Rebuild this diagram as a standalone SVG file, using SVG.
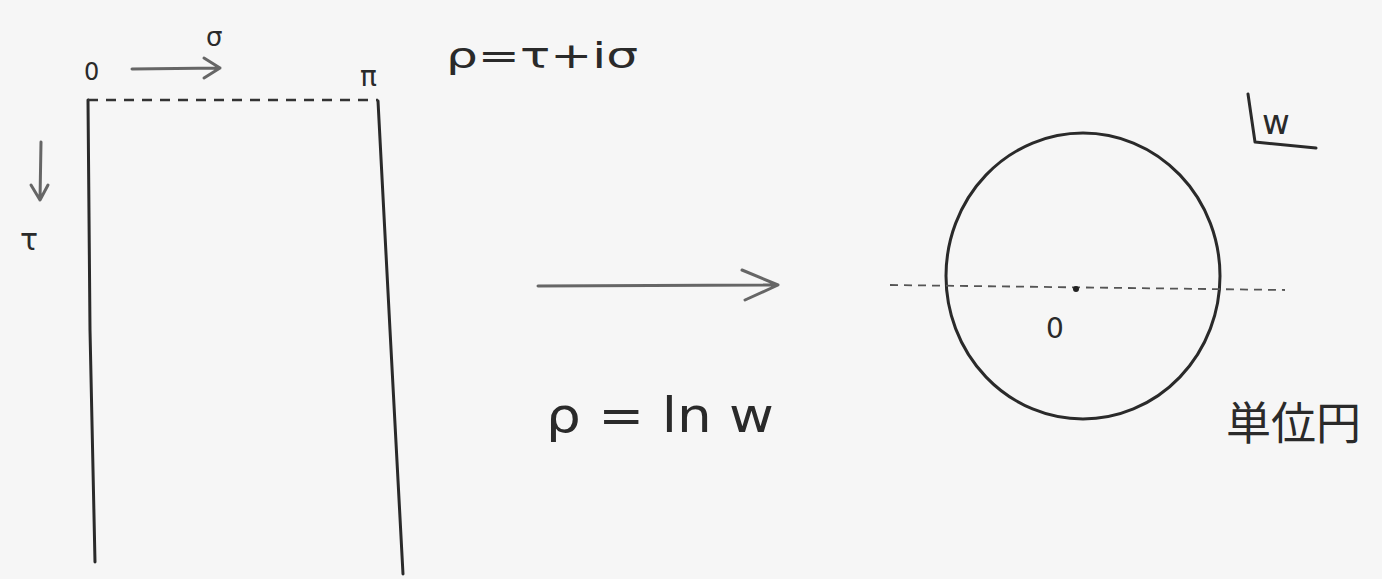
<svg xmlns="http://www.w3.org/2000/svg" width="1382" height="579" viewBox="0 0 1382 579">
<defs>
<style>
.ln{fill:none;stroke:#2a2a2a;stroke-width:3;stroke-linecap:round;stroke-linejoin:round}
.gr{fill:none;stroke:#666;stroke-width:3;stroke-linecap:round;stroke-linejoin:round}
.dash{fill:none;stroke:#333;stroke-width:2.5;stroke-dasharray:10 8}
.dash2{fill:none;stroke:#555;stroke-width:1.8;stroke-dasharray:8 6}
.t{font-family:"DejaVu Sans","Liberation Sans",sans-serif;fill:#2a2a2a}
</style>
</defs>
<rect width="1382" height="579" fill="#f6f6f6"/>
<g id="strip">
<path class="ln" d="M88,100 L90,330 L95,562"/>
<path class="ln" d="M378,101 L390,330 L403,574"/>
<path class="dash" d="M88,100 L378,100"/>
<text class="t" x="84" y="80" font-size="24">0</text>
<text class="t" x="360" y="86" font-size="28">π</text>
<text class="t" x="206" y="46" font-size="26">σ</text>
<text class="t" x="20" y="250" font-size="30">τ</text>
<path class="gr" d="M132,69 L220,68 M204,58 L220,68 L204,78"/>
<path class="gr" d="M41,142 L40,200 M31,185 L40,200 L48,185"/>
</g>
<g id="formula1"><text class="t" x="446" y="68" font-size="36" textLength="192" lengthAdjust="spacingAndGlyphs">ρ=τ+iσ</text></g>
<g id="map">
<path class="gr" d="M538,286 L778,285 M742,270 L778,285 L745,300"/>
<text class="t" x="546" y="432" font-size="48" textLength="228" lengthAdjust="spacingAndGlyphs">ρ = ln w</text>
</g>
<g id="disk">
<ellipse class="ln" cx="1083" cy="276" rx="137" ry="143"/>
<path class="dash2" d="M890,285 L1285,290"/>
<circle cx="1076" cy="289" r="3" fill="#222"/>
<text class="t" x="1046" y="338" font-size="28">0</text>
<path class="ln" d="M1248,94 L1255,142 L1316,148"/>
<text class="t" x="1262" y="134" font-size="34">w</text>
<text class="t" x="1226" y="440" font-size="45" style="font-family:'Noto Sans CJK JP',sans-serif">単位円</text>
</g>
</svg>
